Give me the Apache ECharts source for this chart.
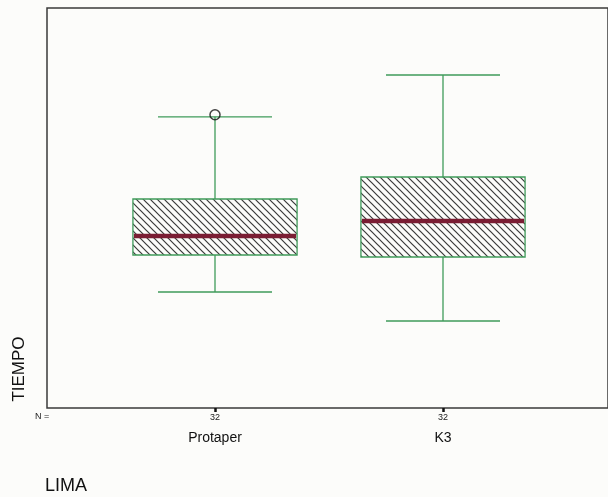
<!DOCTYPE html>
<html>
<head>
    <meta charset="UTF-8">
    <script src="https://cdn.jsdelivr.net/npm/echarts@6/dist/echarts.min.js"></script>
    <style>
      html, body { margin: 0; padding: 0; background: #fcfcfa; }
      #main { width: 608px; height: 497px; }
    </style>
</head>
<body>
<div id="main"></div>
<script>
    // data (no y scale printed, units are relative)
    var categories = ['Protaper', 'K3'];
    var counts = [32, 32];
    var lowWhisker = [29, 21.75];
    var q1 = [38.25, 37.75];
    var median = [43, 46.75];
    var q3 = [52.25, 57.75];
    var highWhisker = [72.8, 83.25];
    var outliers = [[0, 73.3]];

    var green = '#3f9b5a';
    var maroon = '#7a1d33';

    // diagonal hatch used inside the boxes
    var tile = document.createElement('canvas');
    tile.width = 7;
    tile.height = 7;
    var ctx = tile.getContext('2d');
    ctx.strokeStyle = '#3a3a3a';
    ctx.lineWidth = 1.2;
    ctx.beginPath();
    ctx.moveTo(-1, -1); ctx.lineTo(8, 8);
    ctx.moveTo(6, -1); ctx.lineTo(8, 1);
    ctx.moveTo(-1, 6); ctx.lineTo(1, 8);
    ctx.stroke();
    var hatch = { image: tile, repeat: 'repeat' };

    var boxData = categories.map(function (c, i) {
        return [i, lowWhisker[i], q1[i], median[i], q3[i], highWhisker[i]];
    });

    function renderBox(params, api) {
        var i = api.value(0);
        var lo = api.coord([i, api.value(1)]);
        var b1 = api.coord([i, api.value(2)]);
        var md = api.coord([i, api.value(3)]);
        var b3 = api.coord([i, api.value(4)]);
        var hi = api.coord([i, api.value(5)]);
        var band = api.size([1, 0])[0];
        var bw = band * 0.72, cw = band * 0.5;
        var x = lo[0];
        var line = function (x1, y1, x2, y2) {
            return { type: 'line', shape: { x1: x1, y1: y1, x2: x2, y2: y2 },
                     style: { stroke: green, lineWidth: 1.3 } };
        };
        return {
            type: 'group',
            children: [
                line(x, b3[1], x, hi[1]),
                line(x - cw / 2, hi[1], x + cw / 2, hi[1]),
                line(x, b1[1], x, lo[1]),
                line(x - cw / 2, lo[1], x + cw / 2, lo[1]),
                { type: 'rect',
                  shape: { x: x - bw / 2, y: b3[1], width: bw, height: b1[1] - b3[1] },
                  style: { fill: hatch, stroke: green, lineWidth: 1.3 } },
                { type: 'line',
                  shape: { x1: x - bw / 2 + 1, y1: md[1], x2: x + bw / 2 - 1, y2: md[1] },
                  style: { stroke: maroon, lineWidth: 4.5 } }
            ]
        };
    }

    var myChart = echarts.init(document.getElementById('main'));
    var option = {
        backgroundColor: '#fcfcfa',
        textStyle: { fontFamily: 'Liberation Sans' },
        grid: [
            { left: 47, top: 8, right: -3, bottom: 89, show: true,
              borderColor: '#3a3a3a', borderWidth: 1.5, backgroundColor: 'transparent' },
            { left: 101, top: 8, right: 51, bottom: 89 }
        ],
        xAxis: [
            { gridIndex: 0, type: 'value', show: false, min: 0, max: 1 },
            { gridIndex: 1, type: 'category', data: categories,
              axisLine: { show: false },
              axisTick: { show: true, alignWithLabel: true, length: 4,
                          lineStyle: { color: '#111', width: 2.5 } },
              axisLabel: {
                  margin: 3,
                  formatter: function (v, i) {
                      return '{n|' + counts[i] + '}\n{c|' + v + '}';
                  },
                  rich: {
                      n: { fontSize: 9, lineHeight: 14, color: '#222' },
                      c: { fontSize: 14, lineHeight: 26, color: '#111' }
                  }
              } }
        ],
        yAxis: [
            { gridIndex: 0, type: 'value', show: false, min: 0, max: 1 },
            { gridIndex: 1, type: 'value', min: 0, max: 100,
              axisLine: { show: false }, axisTick: { show: false },
              axisLabel: { show: false }, splitLine: { show: false } }
        ],
        graphic: [
            { type: 'text', left: 35, top: 412,
              style: { text: 'N =', fontSize: 9, fill: '#222', fontFamily: 'Liberation Sans' } },
            { type: 'text', x: 19, y: 369, rotation: Math.PI / 2,
              style: { text: 'TIEMPO', fontSize: 17, fill: '#111', fontFamily: 'Liberation Sans',
                       align: 'center', verticalAlign: 'middle' } },
            { type: 'text', left: 45, top: 477,
              style: { text: 'LIMA', fontSize: 18, fill: '#111', fontFamily: 'Liberation Sans' } }
        ],
        series: [
            { type: 'custom', xAxisIndex: 1, yAxisIndex: 1,
              renderItem: renderBox, data: boxData, silent: true },
            { type: 'scatter', xAxisIndex: 1, yAxisIndex: 1, data: outliers,
              symbol: 'circle', symbolSize: 10,
              itemStyle: { color: 'transparent', borderColor: '#111', borderWidth: 1.5 } }
        ]
    };

    myChart.setOption(option);
</script>
</body>
</html>
